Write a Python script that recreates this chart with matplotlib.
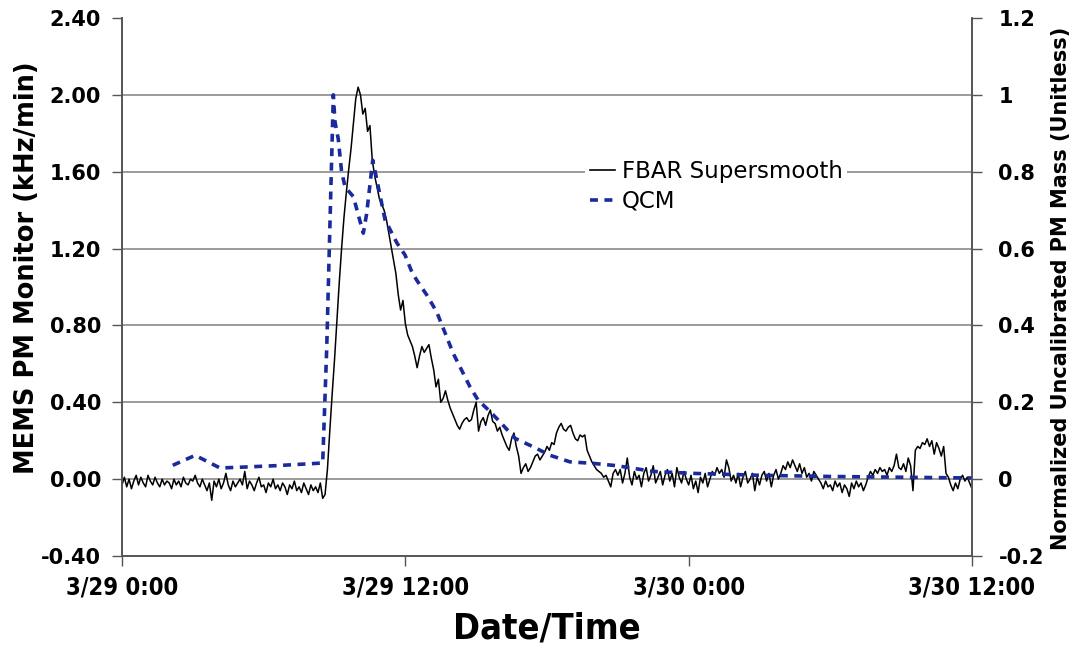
import numpy as np
import matplotlib
matplotlib.use("Agg")
import matplotlib.pyplot as plt
from matplotlib.font_manager import FontProperties
from matplotlib.lines import Line2D

# FBAR supersmooth signal, one value every 0.1 h from 3/29 0:00 (kHz/min)
fbar_values = [
    -0.03, 0.01, -0.04, 0.00, -0.05, -0.01, 0.02, -0.03, 0.01, -0.02,
    -0.04, 0.02, -0.01, -0.03, 0.01, -0.02, -0.04, 0.00, -0.03, -0.01,
    -0.02, -0.05, 0.00, -0.03, -0.01, -0.04, 0.01, -0.02, -0.03, 0.00,
    -0.01, 0.02, -0.02, -0.04, 0.00, -0.03, -0.06, -0.02, -0.11, -0.01,
    -0.04, 0.00, -0.05, -0.02, 0.03, -0.03, -0.06, -0.01, -0.04, -0.02,
    0.00, -0.03, 0.04, -0.05, -0.01, -0.03, -0.06, -0.02, 0.01, -0.04,
    -0.03, -0.07, -0.02, -0.04, 0.00, -0.05, -0.03, -0.06, -0.02, -0.04,
    -0.08, -0.03, -0.05, -0.01, -0.06, -0.04, -0.07, -0.02, -0.05, -0.08,
    -0.03, -0.06, -0.04, -0.07, -0.02, -0.10, -0.08, 0.05, 0.25, 0.44,
    0.62, 0.82, 1.02, 1.20, 1.36, 1.49, 1.61, 1.72, 1.85, 1.98,
    2.04, 2.00, 1.90, 1.93, 1.81, 1.84, 1.66, 1.58, 1.52, 1.46,
    1.43, 1.40, 1.35, 1.28, 1.21, 1.14, 1.07, 0.96, 0.88, 0.93,
    0.81, 0.75, 0.72, 0.69, 0.64, 0.58, 0.64, 0.69, 0.66, 0.68,
    0.70, 0.63, 0.57, 0.48, 0.52, 0.40, 0.42, 0.46, 0.41, 0.37,
    0.34, 0.31, 0.28, 0.26, 0.29, 0.31, 0.32, 0.30, 0.31, 0.36,
    0.40, 0.25, 0.30, 0.32, 0.28, 0.33, 0.36, 0.30, 0.29, 0.25,
    0.27, 0.23, 0.20, 0.17, 0.15, 0.21, 0.24, 0.17, 0.12, 0.03,
    0.06, 0.08, 0.04, 0.06, 0.09, 0.12, 0.13, 0.10, 0.12, 0.14,
    0.17, 0.15, 0.19, 0.18, 0.24, 0.27, 0.29, 0.26, 0.25, 0.27,
    0.28, 0.24, 0.21, 0.20, 0.23, 0.22, 0.23, 0.15, 0.12, 0.09,
    0.07, 0.05, 0.04, 0.03, 0.01, 0.02, -0.01, -0.04, 0.03, 0.05,
    0.02, 0.05, -0.02, 0.03, 0.11, 0.01, -0.03, 0.04, 0.00, 0.02,
    -0.04, 0.03, 0.06, -0.01, 0.02, 0.07, -0.02, 0.01, 0.04, -0.03,
    0.02, 0.05, -0.01, 0.03, -0.04, 0.06, 0.01, -0.02, 0.04, 0.00,
    -0.03, 0.02, -0.05, -0.01, -0.07, 0.01, -0.02, 0.03, -0.04, 0.00,
    0.04, 0.02, 0.06, 0.03, 0.05, 0.01, 0.10, 0.06, -0.01, 0.02,
    -0.02, 0.03, -0.04, 0.01, 0.04, -0.02, 0.00, 0.03, -0.06, 0.01,
    -0.03, 0.02, 0.04, -0.01, 0.03, -0.04, 0.02, 0.05, 0.00, 0.03,
    0.07, 0.05, 0.09, 0.06, 0.10, 0.07, 0.04, 0.08, 0.03, 0.06,
    0.01, 0.03, -0.01, 0.04, 0.02, 0.00, -0.02, -0.05, -0.01, -0.04,
    -0.03, -0.06, -0.01, -0.04, -0.02, -0.07, -0.03, -0.05, -0.09, -0.02,
    -0.05, -0.01, -0.04, -0.02, -0.06, -0.03, 0.01, 0.04, 0.02, 0.05,
    0.03, 0.06, 0.04, 0.05, 0.02, 0.06, 0.04, 0.07, 0.13, 0.06,
    0.05, 0.08, 0.04, 0.11, 0.07, -0.06, 0.15, 0.17, 0.16, 0.19,
    0.18, 0.21, 0.17, 0.20, 0.13, 0.19, 0.16, 0.12, 0.17, 0.03,
    0.01, -0.03, -0.06, -0.02, -0.05, 0.00, 0.02, -0.01, 0.01, -0.02,
    -0.05,
]
fbar_hours = np.linspace(0, 36, len(fbar_values))

# QCM normalized mass samples (hours after 3/29 0:00)
qcm_hours = [2.15, 3.1, 4.15, 5.0, 6.5, 8.5, 8.67, 8.95, 9.02, 9.16, 9.3, 9.45,
             9.8, 10.01, 10.22, 10.36, 10.62, 10.79, 11.14, 11.64, 11.99, 12.27,
             12.48, 12.9, 13.33, 14.03, 14.74, 15.09, 15.52, 16.01, 16.65,
             17.42, 18.13, 18.97, 19.96, 20.95, 22.5, 24.2, 27.0, 30.0, 33.0, 36.0]
qcm_values = [0.036, 0.062, 0.029, 0.031, 0.035, 0.042, 0.34, 1.0, 0.93, 0.885,
              0.80, 0.76, 0.735, 0.687, 0.64, 0.69, 0.83, 0.78, 0.675, 0.615,
              0.583, 0.54, 0.518, 0.48, 0.435, 0.327, 0.24, 0.205, 0.18, 0.149,
              0.106, 0.084, 0.062, 0.045, 0.041, 0.035, 0.02, 0.015, 0.01,
              0.007, 0.005, 0.003]

x_ticks = [0, 12, 24, 36]
x_labels = ["3/29 0:00", "3/29 12:00", "3/30 0:00", "3/30 12:00"]
left_ticks = [-0.4, 0.0, 0.4, 0.8, 1.2, 1.6, 2.0, 2.4]
right_ticks = [-0.2, 0.0, 0.2, 0.4, 0.6, 0.8, 1.0, 1.2]
right_labels = ["-0.2", "0", "0.2", "0.4", "0.6", "0.8", "1", "1.2"]

qcm_color = "#1a2a9c"
spine_color = "#555555"

tick_font = FontProperties(family="DejaVu Sans", weight="bold", size=15)
cond_font = FontProperties(family="DejaVu Sans", weight="bold", stretch="condensed", size=17)
xlabel_font = FontProperties(family="DejaVu Sans", weight="bold", stretch="condensed", size=26)

W, H = 1076, 645
fig = plt.figure(figsize=(W / 100, H / 100), dpi=100)
ax = fig.add_axes([122 / W, 1 - 556 / H, 850 / W, 538 / H])
ax2 = ax.twinx()

ax.plot(fbar_hours, fbar_values, color="black", lw=1.1)
ax2.plot(qcm_hours, qcm_values, color=qcm_color, lw=2.6, linestyle=(0, (2.2, 1.8)))

ax.set_xlim(0, 36)
ax.set_ylim(-0.4, 2.4)
ax2.set_ylim(-0.2, 1.2)

ax.set_yticks(left_ticks)
ax.set_yticklabels([f"{v:.2f}" for v in left_ticks], fontproperties=tick_font)
ax2.set_yticks(right_ticks)
ax2.set_yticklabels(right_labels, fontproperties=tick_font)
ax.set_xticks(x_ticks)
ax.set_xticklabels(x_labels, fontproperties=cond_font)

ax.tick_params(axis="y", length=7, width=1, color=spine_color, pad=8)
ax2.tick_params(axis="y", length=7, width=1, color=spine_color, pad=12)
ax.tick_params(axis="x", length=7, width=1, color=spine_color, pad=7)

# horizontal gridlines only, no line at the top value
for v in left_ticks[1:-1]:
    ax.axhline(v, color="#8a8a8a", lw=1.2, zorder=0)

for a in (ax, ax2):
    a.spines["top"].set_visible(False)
    for side in ("left", "right", "bottom"):
        a.spines[side].set_color(spine_color)
        a.spines[side].set_linewidth(1.2)

# axis titles placed in figure pixels
fig.text(27 / W, 1 - 268 / H, "MEMS PM Monitor (kHz/min)", rotation=90,
         ha="center", va="center", fontsize=18.5, fontweight="bold")
fig.text(1061 / W, 1 - 288 / H, "Normalized Uncalibrated PM Mass (Unitless)",
         rotation=90, ha="center", va="center", fontsize=15, fontweight="bold")
fig.text(547 / W, 1 - 628 / H, "Date/Time", ha="center", va="center",
         fontproperties=xlabel_font)

handles = [Line2D([], [], color="black", lw=1.2),
           Line2D([], [], color=qcm_color, lw=2.6, linestyle=(0, (2.2, 1.8)))]
leg = ax2.legend(handles, ["FBAR Supersmooth", "QCM"], loc="upper left",
                 bbox_to_anchor=(0.545, 0.745), borderaxespad=0, borderpad=0.2,
                 handlelength=1.1, handletextpad=0.3, labelspacing=0.3,
                 prop={"family": "DejaVu Sans", "size": 16.5},
                 frameon=True, fancybox=False, framealpha=1)
leg.get_frame().set_facecolor("white")
leg.get_frame().set_edgecolor("none")

fig.savefig("out.png", dpi=100)
